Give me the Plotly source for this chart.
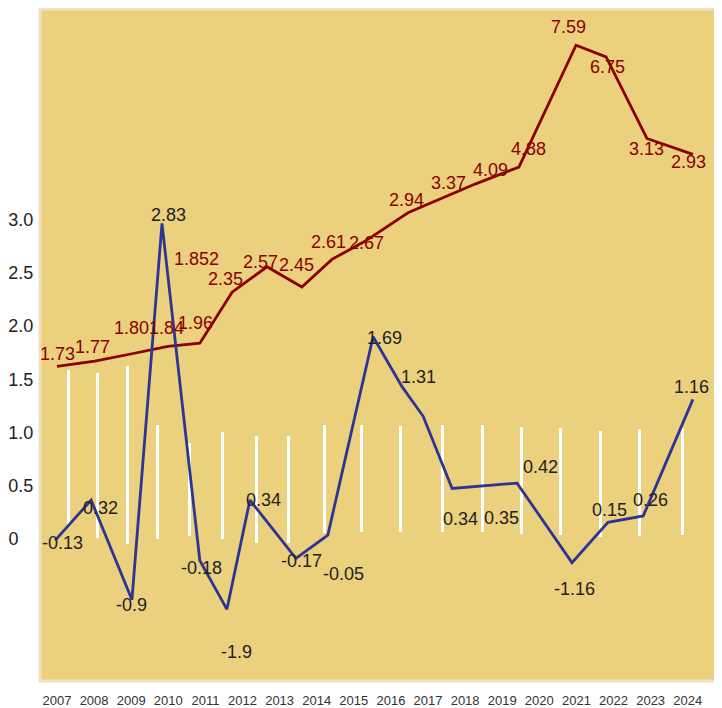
import plotly.graph_objects as go

years = list(range(2007, 2025))
year_labels = [str(y) for y in years]

# Red series: positions (x in year units, y on left scale) and printed labels
red_x = [2007.0, 2008.02, 2009.02, 2009.99, 2010.85, 2011.72, 2012.66, 2013.60, 2014.41,
         2015.30, 2016.46, 2017.05, 2018.27, 2019.45, 2020.99, 2021.80, 2022.90, 2024.14]
red_y = [1.62, 1.67, 1.74, 1.81, 1.84, 2.32, 2.56, 2.37, 2.63,
         2.80, 3.07, 3.16, 3.34, 3.50, 4.65, 4.54, 3.77, 3.62]
red_labels = ["1.73", "1.77", "1.80", "1.84", "1.96", "2.35", "2.57", "2.45", "2.61",
              "2.67", "2.94", "3.37", "4.09", "4.88", "7.59", "6.75", "3.13", "2.93"]
red_extra_label = "1.852"

# Blue series
blue_x = [2006.95, 2007.92, 2009.02, 2009.83, 2010.85, 2011.58, 2012.20, 2013.44, 2014.30,
          2015.52, 2016.30, 2016.87, 2017.65, 2019.40, 2020.88, 2021.85, 2022.80, 2024.14]
blue_y = [-0.02, 0.36, -0.58, 2.97, -0.21, -0.67, 0.36, -0.19, 0.03,
          1.90, 1.43, 1.15, 0.47, 0.52, -0.23, 0.15, 0.21, 1.31]
blue_labels = ["-0.13", "0.32", "-0.9", "2.83", "-0.18", "-1.9", "0.34", "-0.17", "-0.05",
               "1.69", "1.31", "0.34", "0.35", "0.42", "-1.16", "0.15", "0.26", "1.16"]

# White bars
bar_x = [2007.32, 2008.08, 2008.89, 2009.70, 2010.56, 2011.47, 2012.39, 2013.25, 2014.20,
         2015.22, 2016.25, 2017.38, 2018.48, 2019.53, 2020.56, 2021.64, 2022.69, 2023.85]
bar_top = [1.59, 1.56, 1.62, 1.07, 0.90, 1.00, 0.96, 0.96, 1.07,
           1.07, 1.06, 1.07, 1.07, 1.05, 1.04, 1.01, 1.03, 1.04]
bar_base = [0.12, 0.0, -0.05, -0.01, 0.02, -0.01, -0.04, -0.04, 0.05,
            0.06, 0.06, 0.06, 0.06, 0.04, 0.03, 0.01, 0.02, 0.03]

y_tick_vals = [0, 0.5, 1.0, 1.5, 2.0, 2.5, 3.0]
y_tick_text = ["0\u00a0\u00a0\u00a0", "0.5", "1.0", "1.5", "2.0", "2.5", "3.0"]

# label offsets (style, pixels)
red_dx = [1, -2, 0, -1, -4, -7, -6, -5, -3, 2, -1, 19, 15, 10, -8, 1, 0, -4]
red_dy = [12, 14, 26, 18, 20, 13, 5, 22, 17, -2, 13, 20, 14, 18, 18, -10, -11, -8]
blue_dx = [7, 9, 0, 7, 2, 10, 14, 6, 16, 11, 16, 37, 49, 23, 3, 2, 7, -1]
blue_dy = [-3, -8, -5, 8, -7, -43, 0, -3, -39, -1, 10, -103, -30, 16, -26, 12, 16, 12]

RED = "#8B0000"
BLUE = "#2C3593"
BG = "#EBD07E"
FONT = "Liberation Sans, Arial, sans-serif"

fig = go.Figure()
fig.add_trace(go.Bar(x=bar_x, y=[t - b for t, b in zip(bar_top, bar_base)], base=bar_base,
                     width=0.08, marker=dict(color="white", line=dict(width=0)),
                     hoverinfo="skip", showlegend=False))
fig.add_trace(go.Scatter(x=red_x, y=red_y, mode="lines",
                         line=dict(color=RED, width=2.8), showlegend=False))
fig.add_trace(go.Scatter(x=blue_x, y=blue_y, mode="lines",
                         line=dict(color=BLUE, width=2.8), showlegend=False))

annotations = []
for x, y, t, dx, dy in zip(red_x, red_y, red_labels, red_dx, red_dy):
    annotations.append(dict(x=x, y=y, xref="x", yref="y", text=t, showarrow=False,
                            xshift=dx, yshift=dy, font=dict(size=18, color=RED, family=FONT)))
annotations.append(dict(x=red_x[4], y=red_y[4], xref="x", yref="y", text=red_extra_label,
                        showarrow=False, xshift=-3, yshift=84,
                        font=dict(size=18, color=RED, family=FONT)))
for x, y, t, dx, dy in zip(blue_x, blue_y, blue_labels, blue_dx, blue_dy):
    annotations.append(dict(x=x, y=y, xref="x", yref="y", text=t, showarrow=False,
                            xshift=dx, yshift=dy, font=dict(size=18, color="#222222", family=FONT)))

fig.update_layout(
    width=714, height=700,
    margin=dict(l=32, r=0, t=1, b=21),
    paper_bgcolor="white",
    plot_bgcolor=BG,
    font=dict(family=FONT, color="#222222"),
    annotations=annotations,
    shapes=[dict(type="rect", xref="paper", yref="paper", x0=0, x1=1, y0=0, y1=1,
                 line=dict(color="#EFE2C2", width=3), layer="above")],
    bargap=0,
)
fig.update_xaxes(range=[2006.542, 2024.924], tickmode="array", tickvals=years,
                 ticktext=year_labels, showgrid=False, zeroline=False, showline=False,
                 ticks="outside", ticklen=7, tickcolor="rgba(0,0,0,0)",
                 tickfont=dict(size=13, color="#333333", family=FONT))
fig.update_yaxes(range=[-1.346, 4.991], tickmode="array", tickvals=y_tick_vals,
                 ticktext=y_tick_text, showgrid=False, zeroline=False, showline=False,
                 ticks="outside", ticklen=2, tickcolor="rgba(0,0,0,0)",
                 tickfont=dict(size=18, color="#222222", family=FONT))

fig.write_html("out.html")
